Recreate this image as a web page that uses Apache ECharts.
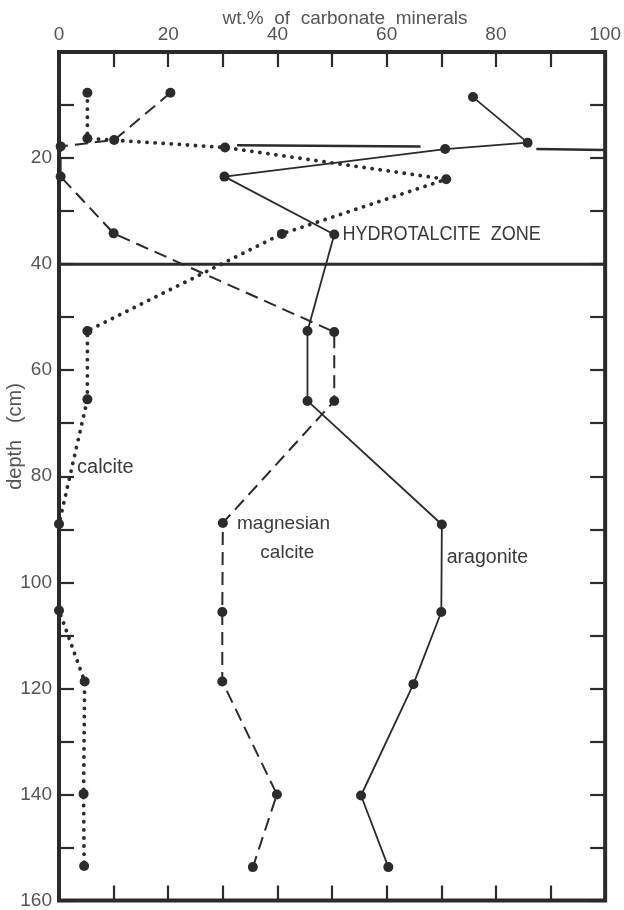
<!DOCTYPE html>
<html>
<head>
<meta charset="utf-8">
<script src="https://cdn.jsdelivr.net/npm/echarts@6/dist/echarts.min.js"></script>
<style>html,body{margin:0;padding:0;background:#fff}#c{width:624px;height:910px}</style>
</head>
<body>
<div id="c"></div>
<script>
// ---- data ----
const xTickLabels = [0, 20, 40, 60, 80, 100];
const yTickLabels = [20, 40, 60, 80, 100, 120, 140, 160];

const calciteValue = [5.2, 5.2, 30.4, 70.9, 40.8, 5.2, 5.2, 0, 0, 4.7, 4.5, 4.6];
const calciteDepth = [7.7, 16.3, 18.0, 24.0, 34.3, 52.6, 65.5, 89.0, 105.3, 118.7, 139.9, 153.5];

const magCalciteValue = [20.4, 10.1, 0.3, 0.3, 10.0, 50.4, 50.4, 30.0, 29.9, 29.9, 39.9, 35.5];
const magCalciteDepth = [7.7, 16.6, 17.8, 23.5, 34.2, 52.8, 65.8, 88.8, 105.6, 118.7, 140.0, 153.7];

const aragoniteValue = [75.8, 85.8, 70.7, 30.3, 50.4, 45.5, 45.5, 70.1, 70.0, 64.9, 55.3, 60.3];
const aragoniteDepth = [8.5, 17.1, 18.3, 23.5, 34.4, 52.6, 65.8, 89.1, 105.6, 119.2, 140.2, 153.7];

const zoneTopLeftValue = [32.6, 66.2];
const zoneTopLeftDepth = [17.6, 17.8];
const zoneTopRightValue = [87.4, 100];
const zoneTopRightDepth = [18.3, 18.5];
const zoneBaseValue = [0, 100];
const zoneBaseDepth = [40, 40];

// ---- helpers ----
const pairs = (xs, ys) => xs.map((x, i) => [x, ys[i]]);
const INK = '#2b2b2b';
const TXT = '#555';
const FONT = '"Liberation Sans", Arial, sans-serif';

const chart = echarts.init(document.getElementById('c'), null, {renderer: 'canvas'});

const tick = () => ({show: true, inside: true, length: 15, lineStyle: {color: INK, width: 2.2}});
const noLine = () => ({show: false, onZero: false});

const option = {
  backgroundColor: '#fff',
  animation: false,
  grid: {left: 59, right: 17, top: 52, bottom: 9, show: true, borderColor: INK, borderWidth: 4, backgroundColor: 'transparent'},
  xAxis: [
    {type: 'value', position: 'top', min: 0, max: 100, interval: 10,
     axisLine: noLine(), splitLine: {show: false}, axisTick: tick(),
     axisLabel: {margin: 8, fontSize: 19, color: TXT, fontFamily: FONT,
       formatter: v => xTickLabels.includes(v) ? String(v) : ''}},
    {type: 'value', position: 'bottom', min: 0, max: 100, interval: 10,
     axisLine: noLine(), splitLine: {show: false}, axisTick: tick(),
     axisLabel: {show: false}}
  ],
  yAxis: [
    {type: 'value', position: 'left', inverse: true, min: 0, max: 160, interval: 10,
     axisLine: noLine(), splitLine: {show: false}, axisTick: tick(),
     axisLabel: {margin: 7, fontSize: 19, color: TXT, fontFamily: FONT,
       formatter: v => yTickLabels.includes(v) ? String(v) : ''}},
    {type: 'value', position: 'right', inverse: true, min: 0, max: 160, interval: 10,
     axisLine: noLine(), splitLine: {show: false}, axisTick: tick(),
     axisLabel: {show: false}}
  ],
  series: [
    {name: 'zone base', type: 'line', data: pairs(zoneBaseValue, zoneBaseDepth), symbol: 'none', clip: false,
     lineStyle: {color: INK, width: 3}},
    {name: 'zone top L', type: 'line', data: pairs(zoneTopLeftValue, zoneTopLeftDepth), symbol: 'none', clip: false,
     lineStyle: {color: INK, width: 2.5}},
    {name: 'zone top R', type: 'line', data: pairs(zoneTopRightValue, zoneTopRightDepth), symbol: 'none', clip: false,
     lineStyle: {color: INK, width: 2.5}},
    {name: 'calcite', type: 'line', data: pairs(calciteValue, calciteDepth), clip: false,
     symbol: 'circle', symbolSize: 10, itemStyle: {color: INK},
     lineStyle: {color: INK, width: 3.8, type: [0.1, 8], cap: 'round'}},
    {name: 'magnesian calcite', type: 'line', data: pairs(magCalciteValue, magCalciteDepth), clip: false,
     symbol: 'circle', symbolSize: 10, itemStyle: {color: INK},
     lineStyle: {color: INK, width: 2, type: [13, 7]}},
    {name: 'aragonite', type: 'line', data: pairs(aragoniteValue, aragoniteDepth), clip: false,
     symbol: 'circle', symbolSize: 10, itemStyle: {color: INK},
     lineStyle: {color: INK, width: 1.8}}
  ]
};
chart.setOption(option);

// ---- text annotations placed in data coordinates ----
const notes = [
  {text: 'HYDROTALCITE  ZONE', at: [51.9, 34.4], align: 'left', size: 21, sx: 0.86},
  {text: 'calcite', at: [3.3, 78.3], align: 'left', size: 20},
  {text: 'magnesian', at: [32.6, 88.9], align: 'left', size: 19},
  {text: 'calcite', at: [41.8, 94.5], align: 'center', size: 19},
  {text: 'aragonite', at: [71.0, 95.3], align: 'left', size: 19.5}
];
const graphics = notes.map(n => {
  const p = chart.convertToPixel({xAxisIndex: 0, yAxisIndex: 0}, n.at);
  return {type: 'text', x: p[0], y: p[1], scaleX: n.sx || 1, silent: true,
    style: {text: n.text, fill: '#3a3a3a', font: n.size + 'px ' + FONT,
      textAlign: n.align, textVerticalAlign: 'middle'}};
});
graphics.push({type: 'text', x: 345, y: 19, silent: true,
  style: {text: 'wt.%  of  carbonate  minerals', fill: TXT, font: '19px ' + FONT, textAlign: 'center', textVerticalAlign: 'middle'}});
const dp = chart.convertToPixel({xAxisIndex: 0, yAxisIndex: 0}, [0, 72.5]);
graphics.push({type: 'text', x: 15, y: dp[1], rotation: Math.PI / 2, silent: true,
  style: {text: 'depth   (cm)', fill: TXT, font: '20px ' + FONT, textAlign: 'center', textVerticalAlign: 'middle'}});
chart.setOption({graphic: graphics});
</script>
</body>
</html>
